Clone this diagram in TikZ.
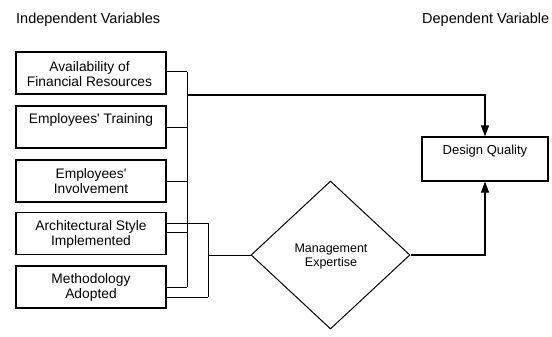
\documentclass[tikz,border=0pt]{standalone}
\usepackage{fontspec}
\setmainfont{Liberation Sans}
\usetikzlibrary{shapes.geometric,arrows.meta}
\begin{document}
\begin{tikzpicture}[x=1pt,y=-1pt,
  ivbox/.style={draw, line width=1.2pt, minimum width=150pt, minimum height=42pt, inner sep=0pt},
  boxtext/.style={align=center, font=\fontsize{13.8}{15}\selectfont, inner sep=0pt},
  conn/.style={line width=1pt},
  arr/.style={line width=1.2pt, -{Triangle[width=8pt,length=11pt]}},
  title/.style={font=\fontsize{14.5}{16}\selectfont, inner sep=0pt, anchor=base west}]
\useasboundingbox (0,0) rectangle (552,337);
% titles
\node[title] (tiv) at (16,23.5) {Independent Variables};
\node[title] (tdv) at (422,23.5) {Dependent Variable};
% left boxes
\node[ivbox] (b1) at (91,73) {};
\node[boxtext] (t1) at (89.5,74.5) {Availability of\\Financial Resources};
\node[ivbox] (b2) at (91,127) {};
\node[boxtext] (t2) at (91,120) {Employees\textquotesingle\ Training};
\node[ivbox] (b3) at (91,181) {};
\node[boxtext] (t3) at (91,181) {Employees\textquotesingle\\Involvement};
\node[ivbox] (b4) at (91,233.5) {};
\node[boxtext] (t4) at (91,234) {Architectural Style\\Implemented};
\node[ivbox] (b5) at (91,287) {};
\node[boxtext] (t5) at (91,287) {Methodology\\Adopted};
% dependent variable box
\node[draw, line width=1.2pt, minimum width=126pt, minimum height=44pt, inner sep=0pt] (dq) at (485,159) {};
\node[font=\fontsize{13}{15}\selectfont, inner sep=0pt] (tdq) at (485,151.5) {Design Quality};
% diamond
\node[draw, diamond, line width=1pt, minimum width=159pt, minimum height=148pt, inner sep=0pt] (me) at (330.5,255) {};
\node[align=center, font=\fontsize{12.5}{14}\selectfont, inner sep=0pt] (tme) at (331,256) {Management\\Expertise};
% bus coordinates
\coordinate (busA) at (187,0);
\coordinate (busAtop) at (187,72);
\coordinate (busAbot) at (187,287);
\coordinate (busBtop) at (208,223);
\coordinate (busBbot) at (208,297);
\coordinate (junA) at (187,95);
\coordinate (junB) at (208,255);
% stubs to bus A
\draw[conn] (b1.east |- busAtop) -- (busAtop);
\draw[conn] (b2.east) -- (b2.east -| busA);
\draw[conn] (b3.east) -- (b3.east -| busA);
\draw[conn] ([yshift=1.5pt]b4.east) -- ([yshift=1.5pt]b4.east -| busA);
\draw[conn] (b5.east |- busAbot) -- (busAbot);
\draw[conn] (busAtop) -- (busAbot);
% stubs to bus B
\draw[conn] (b4.east |- busBtop) -- (busBtop);
\draw[conn] (b5.east |- busBbot) -- (busBbot);
\draw[conn] (busBtop) -- (busBbot);
% main connections
\draw[conn] (junB) -- (me.west);
\draw[arr] (junA) -| (dq.north);
\draw[arr] (me.east) -| (dq.south);
\end{tikzpicture}
\end{document}
